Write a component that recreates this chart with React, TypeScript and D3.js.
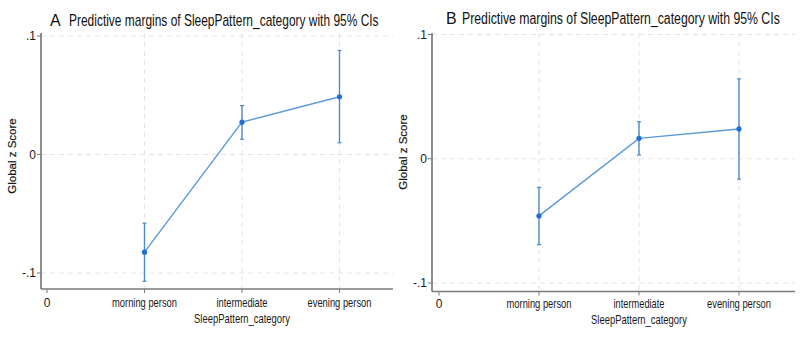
import React, { useLayoutEffect, useRef, useState } from "react";
import * as d3 from "d3";

const categories = ["morning person", "intermediate", "evening person"];
const xTickLabels = ["0", "morning person", "intermediate", "evening person"];
const yTicks = [-0.1, 0, 0.1];
const yTickLabels = ["-.1", "0", ".1"];

const marginA = [-0.0824, 0.0273, 0.0487];
const lowerA = [-0.107, 0.0129, 0.0099];
const upperA = [-0.058, 0.0413, 0.0878];

const marginB = [-0.046, 0.0164, 0.024];
const lowerB = [-0.0691, 0.003, -0.0164];
const upperB = [-0.0231, 0.0298, 0.0643];

const titleText = "Predictive margins of SleepPattern_category with 95% CIs";
const xTitle = "SleepPattern_category";
const yTitle = "Global z Score";

const FONT = "Liberation Sans, Arial, sans-serif";
const AXIS = "#7a7a7a";
const GRID = "#e4e4e4";
const LINE = "#5b9ad8";
const BAR = "#4a8ad0";
const DOT = "#1f6fd6";
const TEXT = "#1a1a1a";

const tickLabelWidths = [0, 65, 51, 64];

// Text squeezed horizontally to a target width via a transform (so its real box matches)
function FitText(props: {
  x: number;
  y: number;
  width?: number;
  anchor?: "start" | "middle" | "end";
  fontSize: number;
  fill: string;
  dy?: string;
  children: string;
}) {
  const ref = useRef<SVGTextElement>(null);
  const [sx, setSx] = useState(1);
  useLayoutEffect(() => {
    if (ref.current && props.width) {
      const w = ref.current.getComputedTextLength();
      if (w > 0) setSx(props.width / w);
    }
  }, [props.width, props.children]);
  return (
    <text
      ref={ref}
      transform={`translate(${props.x},${props.y}) scale(${sx},1)`}
      textAnchor={props.anchor || "start"}
      dy={props.dy}
      fontSize={props.fontSize}
      fontFamily={FONT}
      fill={props.fill}
    >
      {props.children}
    </text>
  );
}

type PanelProps = {
  letter: string;
  margin: number[];
  lower: number[];
  upper: number[];
  axisX: number;
  xRange: [number, number];
  xEnd: number;
  axisY: number;
  yRange: [number, number];
  yTop: number;
  titleX: number;
  titleTextX: number;
  titleY: number;
  titleLen: number;
  yLabelX: number;
  yLabelY: number;
  tickLabelY: number;
  xTitleY: number;
};

function Panel(p: PanelProps) {
  const x = d3.scaleLinear().domain([0, 3]).range(p.xRange);
  const y = d3.scaleLinear().domain([-0.1, 0.1]).range(p.yRange);
  const pts = categories.map((c, i) => ({ i: i + 1, m: p.margin[i], lo: p.lower[i], hi: p.upper[i] }));
  const line = d3
    .line<{ i: number; m: number }>()
    .x((d) => x(d.i))
    .y((d) => y(d.m));
  const xMid = x(2);
  return (
    <g>
      {yTicks.map((t) => (
        <line key={"hg" + t} x1={p.axisX} x2={p.xEnd} y1={y(t)} y2={y(t)} stroke={GRID} strokeWidth={1} strokeDasharray="5,4" />
      ))}
      {categories.map((c, i) => (
        <line key={"vg" + c} x1={x(i + 1)} x2={x(i + 1)} y1={p.yTop} y2={p.axisY} stroke={GRID} strokeWidth={1} strokeDasharray="5,4" />
      ))}
      <line x1={p.axisX} x2={p.axisX} y1={p.yTop} y2={p.axisY} stroke={AXIS} strokeWidth={1.7} />
      <line x1={p.axisX} x2={p.xEnd} y1={p.axisY} y2={p.axisY} stroke={AXIS} strokeWidth={1.7} />
      {yTicks.map((t, i) => (
        <g key={"yt" + t}>
          <line x1={p.axisX - 4} x2={p.axisX} y1={y(t)} y2={y(t)} stroke={AXIS} strokeWidth={1} />
          <text x={p.axisX - 5} y={y(t)} dy="0.35em" textAnchor="end" fontSize={12} fontFamily={FONT} fill={TEXT}>
            {yTickLabels[i]}
          </text>
        </g>
      ))}
      {xTickLabels.map((l, i) => (
        <g key={"xt" + l}>
          <line x1={x(i)} x2={x(i)} y1={p.axisY} y2={p.axisY + 4} stroke={AXIS} strokeWidth={1} />
          <FitText
            x={x(i)}
            y={p.tickLabelY}
            dy="0.35em"
            anchor="middle"
            fontSize={12}
            fill={TEXT}
            width={i === 0 ? undefined : tickLabelWidths[i]}
          >
            {l}
          </FitText>
        </g>
      ))}
      <FitText x={xMid} y={p.xTitleY} dy="0.35em" anchor="middle" fontSize={12} fill={TEXT} width={96}>
        {xTitle}
      </FitText>
      <text
        transform={`translate(${p.yLabelX},${p.yLabelY}) rotate(-90)`}
        textAnchor="middle"
        dy="0.35em"
        fontSize={11.5}
        fontFamily={FONT}
        fill={TEXT}
        stroke={TEXT}
        strokeWidth={0.2}
      >
        {yTitle}
      </text>
      <text x={p.titleX} y={p.titleY} fontSize={16} fontFamily={FONT} fill="#111">
        {p.letter}
      </text>
      <FitText x={p.titleTextX} y={p.titleY} fontSize={16} fill="#111" width={p.titleLen}>
        {titleText}
      </FitText>
      <path d={line(pts) || ""} fill="none" stroke={LINE} strokeWidth={1.4} />
      {pts.map((d) => (
        <g key={"eb" + d.i}>
          <line x1={x(d.i)} x2={x(d.i)} y1={y(d.lo)} y2={y(d.hi)} stroke={BAR} strokeWidth={1.4} />
          <line x1={x(d.i) - 2} x2={x(d.i) + 2} y1={y(d.lo)} y2={y(d.lo)} stroke={BAR} strokeWidth={1.2} />
          <line x1={x(d.i) - 2} x2={x(d.i) + 2} y1={y(d.hi)} y2={y(d.hi)} stroke={BAR} strokeWidth={1.2} />
          <circle cx={x(d.i)} cy={y(d.m)} r={2.6} fill={DOT} />
        </g>
      ))}
    </g>
  );
}

export default function App() {
  return (
    <svg width={800} height={342} style={{ position: "absolute", left: 0, top: 0, background: "#fff" }}>
      <rect width={800} height={342} fill="#fff" />
      <Panel
        letter="A"
        margin={marginA}
        lower={lowerA}
        upper={upperA}
        axisX={41}
        xRange={[47, 339.5]}
        xEnd={393}
        axisY={289}
        yRange={[273, 36]}
        yTop={33}
        titleX={50}
        titleTextX={69}
        titleY={26}
        titleLen={310}
        yLabelX={12}
        yLabelY={156}
        tickLabelY={302.5}
        xTitleY={319}
      />
      <Panel
        letter="B"
        margin={marginB}
        lower={lowerB}
        upper={upperB}
        axisX={432}
        xRange={[439, 739]}
        xEnd={795}
        axisY={291.5}
        yRange={[283, 34.5]}
        yTop={33}
        titleX={446}
        titleTextX={462}
        titleY={24}
        titleLen={318}
        yLabelX={403}
        yLabelY={152}
        tickLabelY={304}
        xTitleY={320}
      />
    </svg>
  );
}
